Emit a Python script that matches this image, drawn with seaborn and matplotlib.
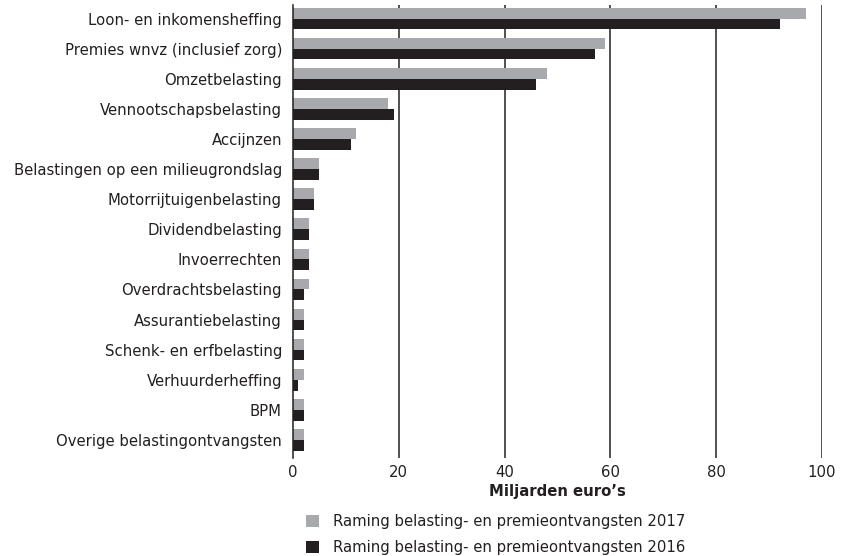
import matplotlib
matplotlib.use("Agg")
import matplotlib.pyplot as plt
import seaborn as sns
import pandas as pd
from matplotlib.patches import Patch

categories = [
    "Loon- en inkomensheffing",
    "Premies wnvz (inclusief zorg)",
    "Omzetbelasting",
    "Vennootschapsbelasting",
    "Accijnzen",
    "Belastingen op een milieugrondslag",
    "Motorrijtuigenbelasting",
    "Dividendbelasting",
    "Invoerrechten",
    "Overdrachtsbelasting",
    "Assurantiebelasting",
    "Schenk- en erfbelasting",
    "Verhuurderheffing",
    "BPM",
    "Overige belastingontvangsten",
]
values_2017 = [97, 59, 48, 18, 12, 5, 4, 3, 3, 3, 2, 2, 2, 2, 2]
values_2016 = [92, 57, 46, 19, 11, 5, 4, 3, 3, 2, 2, 2, 1, 2, 2]
series_labels = [
    "Raming belasting- en premieontvangsten 2017",
    "Raming belasting- en premieontvangsten 2016",
]
xticks = [0, 20, 40, 60, 80, 100]
xlabel = "Miljarden euro\u2019s"

colors = ["#a7a9ac", "#231f20"]

df = pd.DataFrame({
    "cat": categories * 2,
    "val": values_2017 + values_2016,
    "serie": [series_labels[0]] * len(categories) + [series_labels[1]] * len(categories),
})

sns.set_theme(style="white")
plt.rcParams["font.family"] = ["DejaVu Sans"]
fs = 10.7

fig = plt.figure(figsize=(8.45, 5.56), dpi=100)
ax = fig.add_axes([293 / 845, 1 - 458 / 556, (822 - 293) / 845, (458 - 5) / 556])

for x in xticks[1:]:
    ax.axvline(x, color="#231f20", lw=1.1, zorder=0.5)

sns.barplot(data=df, y="cat", x="val", hue="serie", hue_order=series_labels,
            order=categories, palette=colors, orient="h", width=0.72,
            saturation=1, ax=ax, legend=False, zorder=3, linewidth=0,
            edgecolor="none")

ax.set_xlim(0, 100)
ax.set_ylim(14.6, -0.45)
ax.set_xticks(xticks)
ax.set_xticklabels([str(t) for t in xticks], fontsize=fs, color="#231f20")
ax.tick_params(axis="x", length=0, pad=5)
ax.tick_params(axis="y", length=0, pad=8, labelsize=fs, labelcolor="#231f20")
ax.set_ylabel("")
ax.set_xlabel(xlabel, fontsize=fs, fontweight="bold", color="#231f20", labelpad=3)
for s in ["top", "right", "bottom"]:
    ax.spines[s].set_visible(False)
ax.spines["left"].set_color("#231f20")
ax.spines["left"].set_linewidth(1.1)
ax.spines["left"].set_zorder(4)

handles = [Patch(facecolor=c, edgecolor="none") for c in colors]
fig.legend(handles, series_labels, loc="upper left",
           bbox_to_anchor=(306 / 845, 1 - 514 / 556), frameon=False,
           fontsize=fs, handlelength=0.85, handleheight=0.85,
           handletextpad=1.0, labelspacing=0.75, borderaxespad=0,
           borderpad=0, labelcolor="#231f20")

fig.savefig("out.png", dpi=100)
